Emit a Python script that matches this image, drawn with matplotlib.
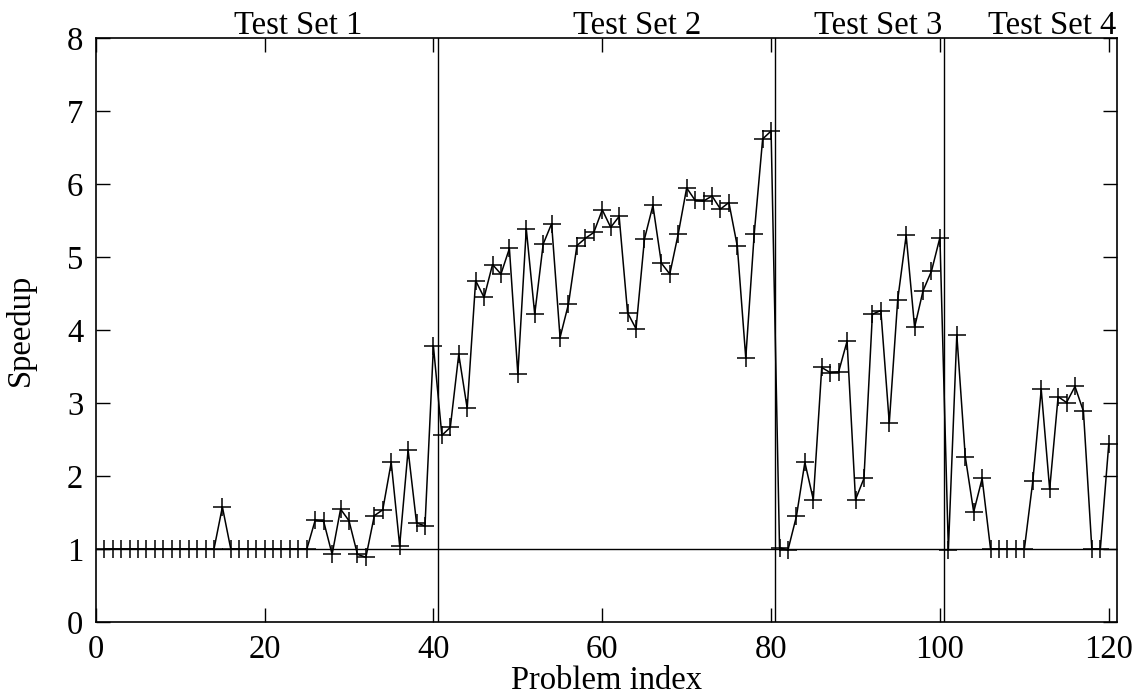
import numpy as np
import matplotlib
matplotlib.use("Agg")
import matplotlib.pyplot as plt

plt.rcParams['font.family'] = ['Liberation Serif', 'DejaVu Serif']

# speedup per problem, problems numbered 1..120
speedup_set1 = [1.0, 1.0, 1.0, 1.0, 1.0, 1.0, 1.0, 1.0, 1.0, 1.0,
                1.0, 1.0, 1.0, 1.0, 1.58, 1.0, 1.0, 1.0, 1.0, 1.0,
                1.0, 1.0, 1.0, 1.0, 1.0, 1.40, 1.38, 0.93, 1.55, 1.39,
                0.93, 0.89, 1.46, 1.54, 2.19, 1.05, 2.36, 1.36, 1.32, 3.78]
speedup_set2 = [2.56, 2.67, 3.67, 2.93, 4.68, 4.45, 4.90, 4.77, 5.12, 3.40,
                5.39, 4.22, 5.18, 5.46, 3.90, 4.36, 5.16, 5.26, 5.34, 5.65,
                5.41, 5.56, 4.24, 4.02, 5.25, 5.71, 4.92, 4.77, 5.32, 5.95,
                5.78, 5.77, 5.84, 5.66, 5.75, 5.15, 3.62, 5.32, 6.62, 6.73]
speedup_set3 = [1.02, 0.99, 1.45, 2.19, 1.68, 3.49, 3.42, 3.43, 3.85, 1.68,
                1.97, 4.22, 4.27, 2.73, 4.42, 5.30, 4.04, 4.54, 4.81, 5.27]
speedup_set4 = [0.99, 3.94, 2.27, 1.51, 1.97, 1.0, 1.0, 1.0, 1.0, 1.0,
                1.93, 3.19, 1.82, 3.09, 3.01, 3.23, 2.89, 1.0, 1.0, 2.44]

set_bounds = [40.5, 80.5, 100.5]
set_names = ["Test Set 1", "Test Set 2", "Test Set 3", "Test Set 4"]
set_label_x = [24, 64.1, 92.7, 113.3]

speedup = np.array(speedup_set1 + speedup_set2 + speedup_set3 + speedup_set4)
idx = np.arange(1, len(speedup) + 1)

fig = plt.figure(figsize=(11.4, 6.96), dpi=100)
ax = fig.add_axes([0.084, 0.106, 0.896, 0.839])

ax.axhline(1, color='black', lw=1.0)
for b in set_bounds:
    ax.axvline(b, color='black', lw=1.0)

ax.plot(idx, speedup, color='black', lw=1.1, marker='+', markersize=13,
        markeredgewidth=1.1)

ax.set_xlim(0, 121)
ax.set_ylim(0, 8)
ax.set_xticks(np.arange(0, 121, 20))
ax.set_yticks(np.arange(0, 9, 1))
ax.tick_params(direction='in', length=10, width=1, top=True, right=True,
               labelsize=23.5, pad=9)
for s in ax.spines.values():
    s.set_linewidth(1.2)

ax.set_xlabel("Problem index", fontsize=23.5, labelpad=0)
ax.set_ylabel("Speedup", fontsize=23.5, labelpad=22)

for name, xp in zip(set_names, set_label_x):
    ax.text(xp, 1.007, name, transform=ax.get_xaxis_transform(),
            ha='center', va='baseline', fontsize=23.5)

fig.savefig("out.png", dpi=100)
